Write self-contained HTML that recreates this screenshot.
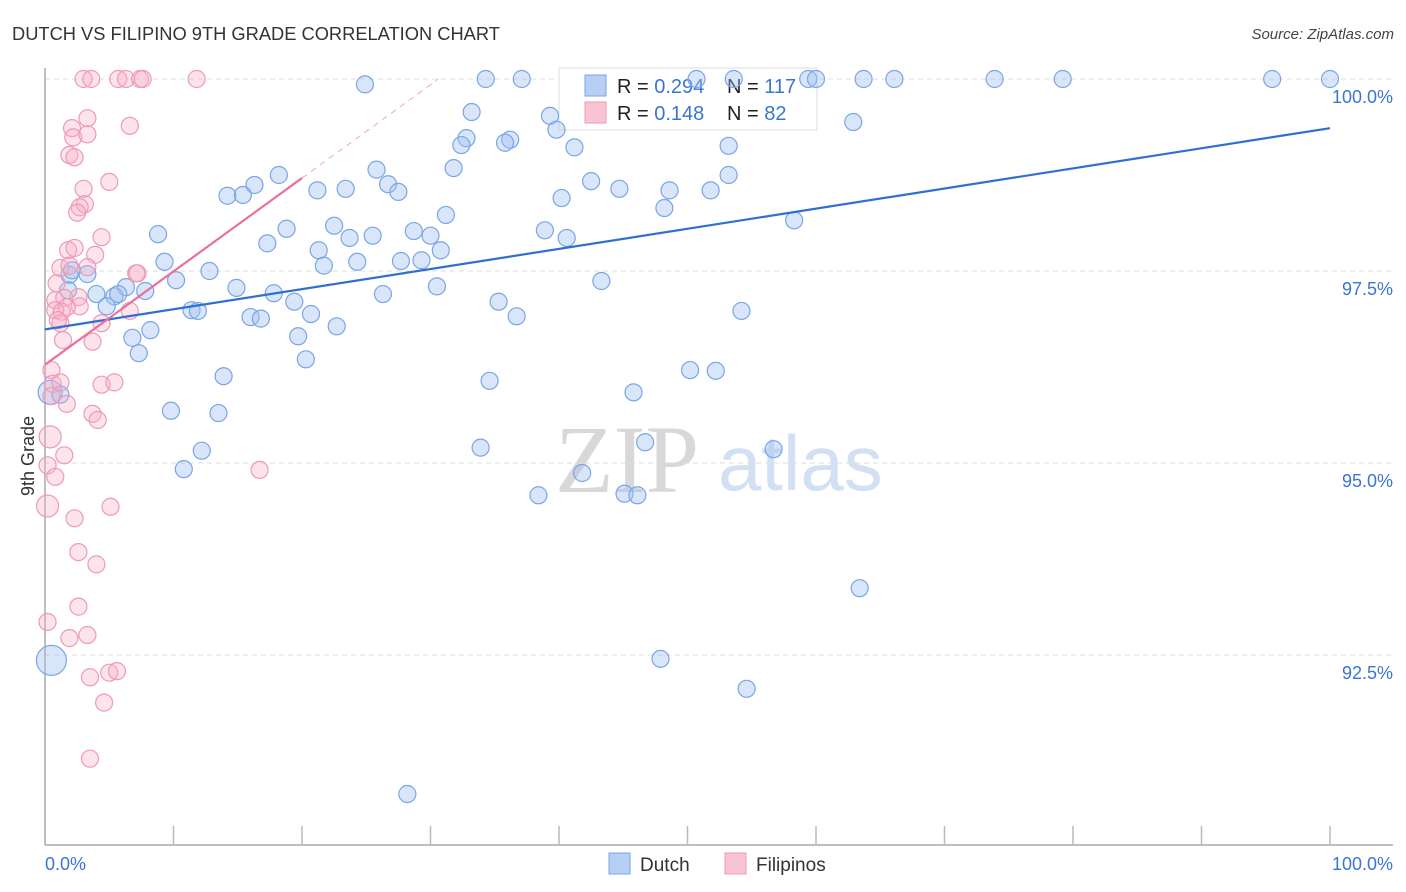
<!DOCTYPE html>
<html><head><meta charset="utf-8">
<style>
body{margin:0;background:#fff;font-family:"Liberation Sans",sans-serif;}
#wrap{position:relative;width:1406px;height:892px;overflow:hidden;}
</style></head>
<body>
<div id="wrap">
<svg id="chart" width="1406" height="892" xmlns="http://www.w3.org/2000/svg">
<text x="12" y="40" font-size="18.3" fill="#333">DUTCH VS FILIPINO 9TH GRADE CORRELATION CHART</text>
<text x="1394" y="39" font-size="15" fill="#444" text-anchor="end" font-style="italic">Source: ZipAtlas.com</text>
<text x="555" y="492" font-size="96" fill="#d8d8d8" font-family="Liberation Serif, serif">ZIP</text>
<text x="718" y="490" font-size="78" fill="#d3e0f3">atlas</text>
<g id="grid"></g>
<g id="axes"></g>
<g>
<rect x="559" y="68" width="258" height="62" fill="#fff" stroke="#ddd"/>
<rect x="585" y="75" width="21" height="21" fill="#b6cff3" stroke="#7aa5e6"/>
<rect x="585" y="102" width="21" height="21" fill="#f8c4d4" stroke="#ee9ab6"/>
<text x="617" y="93" font-size="20" fill="#222">R = <tspan fill="#3a75d6">0.294</tspan></text>
<text x="727" y="93" font-size="20" fill="#222">N = <tspan fill="#3a75d6">117</tspan></text>
<text x="617" y="120" font-size="20" fill="#222">R =  <tspan fill="#3a75d6">0.148</tspan></text>
<text x="727" y="120" font-size="20" fill="#222">N =  <tspan fill="#3a75d6">82</tspan></text>
</g>
<g id="pts"></g>
<g id="trend"></g>
<text transform="translate(34,456) rotate(-90)" font-size="18" fill="#333" text-anchor="middle">9th Grade</text>
<g>
<rect x="609" y="853" width="21" height="21" fill="#b6cff3" stroke="#7aa5e6"/>
<text x="640" y="871" font-size="19" fill="#333">Dutch</text>
<rect x="725" y="853" width="21" height="21" fill="#f8c4d4" stroke="#ee9ab6"/>
<text x="756" y="871" font-size="19" fill="#333">Filipinos</text>
</g>
</svg>
</div>
<script>
const yTicks=[100,97.5,95,92.5];
const yTickLabels=["100.0%","97.5%","95.0%","92.5%"];
const xTickLabels=["0.0%","100.0%"];
const dutchX=[24.9,34.3,37.1,50.7,53.6,59.4,60.0,63.7,66.1,73.9,79.2,95.5,100,33.2,39.3,39.8,32.8,32.4,36.2,35.8,41.2,62.9,53.2,25.8,31.8,18.2,16.3,14.2,15.4,21.2,26.7,27.5,23.4,42.5,44.7,48.6,51.8,53.2,40.2,48.2,31.2,58.3,22.5,18.8,8.8,28.7,30.0,25.5,23.7,17.3,21.3,30.8,38.9,40.6,9.3,24.3,21.7,27.7,29.3,12.8,10.2,1.9,2.1,3.3,14.9,7.8,6.3,5.4,4.0,5.7,1.8,17.8,26.3,30.5,43.3,35.3,19.4,4.8,11.4,11.9,16.0,16.8,20.7,36.7,54.2,22.7,8.2,6.8,19.7,7.3,20.3,13.9,34.6,50.2,52.2,45.8,9.8,13.5,33.9,46.7,12.2,10.8,41.8,56.7,38.4,45.1,46.1,63.4,47.9,54.6,28.2,0.5,0.4,1.2];
const dutchY=[99.93,100,100,100,100,100,100,100,100,100,100,100,100,99.57,99.52,99.34,99.23,99.14,99.21,99.17,99.11,99.44,99.13,98.82,98.84,98.75,98.62,98.48,98.49,98.55,98.63,98.53,98.57,98.67,98.57,98.55,98.55,98.75,98.45,98.32,98.23,98.16,98.09,98.05,97.98,98.02,97.96,97.96,97.93,97.86,97.77,97.77,98.03,97.93,97.62,97.62,97.57,97.63,97.64,97.5,97.38,97.45,97.51,97.46,97.28,97.24,97.29,97.17,97.2,97.2,97.25,97.21,97.2,97.3,97.37,97.1,97.1,97.04,96.99,96.98,96.9,96.88,96.94,96.91,96.98,96.78,96.73,96.63,96.65,96.43,96.35,96.13,96.07,96.21,96.2,95.92,95.68,95.65,95.2,95.27,95.16,94.92,94.87,95.18,94.58,94.6,94.58,93.37,92.45,92.06,90.69,92.43,95.92,95.89];
const filX=[3.0,3.6,5.7,6.3,7.4,7.6,11.8,3.3,6.6,2.1,2.2,3.3,1.9,2.3,5.0,3.0,3.1,2.7,2.5,4.4,1.8,2.3,3.9,1.2,1.9,3.3,7.1,7.2,0.9,0.8,1.5,2.6,2.7,1.7,0.8,1.3,1.2,1.0,4.4,6.6,1.4,3.7,0.5,0.6,1.2,4.4,5.4,0.5,1.7,3.7,4.1,0.4,1.5,0.2,0.8,0.2,5.1,2.3,2.6,4.0,2.6,0.2,1.9,3.3,3.5,5.0,5.6,4.6,3.5,16.7];
const filY=[100,100,100,100,100,100,100,99.49,99.39,99.36,99.24,99.28,99.01,98.98,98.66,98.57,98.37,98.33,98.26,97.94,97.77,97.8,97.71,97.54,97.57,97.55,97.47,97.47,97.34,97.12,97.15,97.16,97.04,97.03,96.99,96.97,96.82,96.86,96.82,96.98,96.6,96.58,96.21,96.03,96.05,96.02,96.05,95.87,95.77,95.64,95.56,95.34,95.1,94.97,94.82,94.44,94.43,94.28,93.84,93.68,93.13,92.93,92.72,92.76,92.21,92.27,92.29,91.88,91.15,94.91];
const dutchTrend=[96.74,99.36];
const filTrend=[96.28,98.71];
const NS="http://www.w3.org/2000/svg";
const X0=45,X1=1330,Y100=79,PXPER=76.8;
function sx(v){return X0+(X1-X0)*v/100;}
function sy(v){return Y100+(100-v)*PXPER;}
function mk(tag,attrs,parent){const e=document.createElementNS(NS,tag);for(const k in attrs)e.setAttribute(k,attrs[k]);parent.appendChild(e);return e;}
const grid=document.getElementById('grid'),axes=document.getElementById('axes'),pts=document.getElementById('pts'),trend=document.getElementById('trend');
yTicks.forEach((t,i)=>{
 const l=mk('line',{x1:45,x2:1393,y1:sy(t),y2:sy(t),stroke:'#ddd','stroke-dasharray':'5,4'},grid);
 
 
 const tx=mk('text',{x:1393,y:sy(t)+24,'font-size':18,fill:'#3a75d6','text-anchor':'end'},axes);
 tx.textContent=yTickLabels[i];
 
 
});
const ya=mk('line',{x1:45,x2:45,y1:68,y2:845,stroke:'#aaa','stroke-width':1.5},axes);


const xa=mk('line',{x1:45,x2:1393,y1:845,y2:845,stroke:'#aaa','stroke-width':1.5},axes);


for(let i=1;i<=10;i++){
 const t=mk('line',{x1:sx(i*10),x2:sx(i*10),y1:826,y2:845,stroke:'#bbb','stroke-width':1.5},axes);
 
 
}
const xl0=mk('text',{x:45,y:870,'font-size':18,fill:'#3a75d6'},axes);xl0.textContent=xTickLabels[0];


const xl1=mk('text',{x:1393,y:870,'font-size':18,fill:'#3a75d6','text-anchor':'end'},axes);xl1.textContent=xTickLabels[1];


dutchX.forEach((x,i)=>{
 const big=(i>=dutchX.length-3&&i<dutchX.length-1);
 const c=mk('circle',{cx:sx(x),cy:sy(dutchY[i]),r:big?(i==dutchX.length-3?15:12):8.5,fill:'rgba(160,192,240,0.4)',stroke:'#7aa5e6','stroke-width':1.2},pts);
 
 
});
filX.forEach((x,i)=>{
 const big=(i==55||i==51);
 const c=mk('circle',{cx:sx(x),cy:sy(filY[i]),r:big?11:8.5,fill:'rgba(246,176,200,0.35)',stroke:'#ee9ab6','stroke-width':1.2},pts);
 
 
});
const bt=mk('line',{x1:sx(0),y1:sy(dutchTrend[0]),x2:sx(100),y2:sy(dutchTrend[1]),stroke:'#2f6fd3','stroke-width':2.2},trend);


const slope=(filTrend[1]-filTrend[0])/20;
const pt=mk('line',{x1:sx(0),y1:sy(filTrend[0]),x2:sx(20),y2:sy(filTrend[1]),stroke:'#e8709a','stroke-width':2.2},trend);


const xe=(100-filTrend[0])/slope;
const pd=mk('line',{x1:sx(20),y1:sy(filTrend[1]),x2:sx(xe),y2:sy(100),stroke:'#f0a8c0','stroke-width':1,'stroke-dasharray':'6,5'},trend);


</script>
</body></html>
